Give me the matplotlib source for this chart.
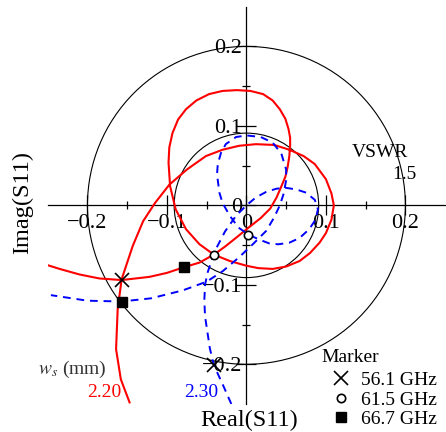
import matplotlib.pyplot as plt
from matplotlib.lines import Line2D

plt.rcParams['font.family'] = ['Liberation Serif', 'DejaVu Serif']
plt.rcParams['mathtext.fontset'] = 'stix'

# S11 trace, w_s = 2.20 mm (red, solid)
red_re = [-0.147, -0.158, -0.164, -0.162, -0.157, -0.143, -0.130, -0.115, -0.097, -0.075,
          -0.051, -0.030, -0.009, 0.012, 0.035, 0.054, 0.072, 0.086, 0.100, 0.107,
          0.110, 0.107, 0.100, 0.092, 0.080, 0.067, 0.050, 0.033, 0.015, 0.000,
          -0.021, -0.041, -0.059, -0.076, -0.089, -0.096, -0.098, -0.097, -0.093, -0.086,
          -0.076, -0.063, -0.047, -0.030, -0.012, 0.005, 0.021, 0.033, 0.042, 0.049,
          0.053, 0.055, 0.055, 0.054, 0.052, 0.049, 0.044, 0.038, 0.030, 0.018,
          0.004, -0.012, -0.027, -0.041, -0.059, -0.079, -0.100, -0.122, -0.157, -0.185,
          -0.210, -0.235, -0.251]
red_im = [-0.248, -0.219, -0.181, -0.131, -0.093, -0.051, -0.020, 0.003, 0.026, 0.045,
          0.062, 0.070, 0.075, 0.077, 0.076, 0.070, 0.062, 0.052, 0.033, 0.015,
          0.000, -0.018, -0.035, -0.047, -0.060, -0.070, -0.077, -0.080, -0.079, -0.076,
          -0.070, -0.062, -0.049, -0.030, -0.005, 0.024, 0.054, 0.073, 0.091, 0.108,
          0.121, 0.132, 0.140, 0.144, 0.145, 0.144, 0.140, 0.132, 0.121, 0.109,
          0.096, 0.085, 0.075, 0.062, 0.049, 0.036, 0.024, 0.010, -0.004, -0.016,
          -0.027, -0.040, -0.052, -0.062, -0.072, -0.078, -0.085, -0.090, -0.094, -0.092,
          -0.087, -0.080, -0.075]

# S11 trace, w_s = 2.30 mm (blue, dashed)
blue_re = [-0.019, -0.030, -0.041, -0.046, -0.049, -0.052, -0.053, -0.052, -0.049, -0.040,
           -0.027, -0.013, 0.000, 0.012, 0.025, 0.038, 0.050, 0.063, 0.075, 0.086,
           0.090, 0.087, 0.079, 0.067, 0.054, 0.040, 0.029, 0.016, 0.003, -0.010,
           -0.021, -0.030, -0.034, -0.037, -0.036, -0.032, -0.026, -0.013, 0.000, 0.018,
           0.033, 0.044, 0.050, 0.050, 0.047, 0.042, 0.035, 0.025, 0.008, -0.010,
           -0.030, -0.050, -0.080, -0.120, -0.157, -0.200, -0.246]
blue_im = [-0.250, -0.225, -0.201, -0.180, -0.160, -0.140, -0.120, -0.100, -0.085, -0.058,
           -0.033, -0.013, 0.000, 0.010, 0.017, 0.021, 0.022, 0.020, 0.016, 0.007,
           -0.005, -0.018, -0.030, -0.041, -0.047, -0.049, -0.048, -0.043, -0.037, -0.028,
           -0.013, 0.003, 0.016, 0.039, 0.052, 0.066, 0.077, 0.086, 0.088, 0.086,
           0.079, 0.065, 0.045, 0.032, 0.015, 0.000, -0.015, -0.032, -0.049, -0.066,
           -0.083, -0.096, -0.107, -0.117, -0.121, -0.120, -0.113]

# marker points (56.1, 61.5, 66.7 GHz)
marker_freqs = ['56.1 GHz', '61.5 GHz', '66.7 GHz']
red_mk_re = [-0.157, -0.041, -0.079]
red_mk_im = [-0.094, -0.062, -0.078]
blue_mk_re = [-0.041, 0.0025, -0.157]
blue_mk_im = [-0.201, -0.037, -0.121]

vswr_levels = [1.2, 1.5]
ticks = [-0.2, -0.1, 0, 0.1, 0.2]
tick_labels = ['\u22120.2', '\u22120.1', '0', '0.1', '0.2']
minor_ticks = [-0.15, -0.05, 0.05, 0.15]

fig = plt.figure(figsize=(4.46, 4.32), dpi=100)
ax = fig.add_axes([0.107, 0.0648, 0.891, 0.9197])
ax.set_xlim(-0.25, 0.25)
ax.set_ylim(-0.25, 0.25)

for s in ['left', 'bottom']:
    ax.spines[s].set_position('zero')
    ax.spines[s].set_linewidth(0.9)
for s in ['right', 'top']:
    ax.spines[s].set_visible(False)

ax.set_xticks(ticks)
ax.set_xticklabels(tick_labels)
ax.set_yticks(ticks)
ax.set_yticklabels(tick_labels)
ax.set_xticks(minor_ticks, minor=True)
ax.set_yticks(minor_ticks, minor=True)
ax.tick_params(which='major', direction='inout', length=14, width=0.9, labelsize=16)
ax.tick_params(which='minor', direction='inout', length=6, width=0.9)
ax.tick_params(axis='x', which='major', pad=-0.5)
ax.tick_params(axis='y', which='major', pad=-4)

# constant VSWR circles
for v in vswr_levels:
    r = (v - 1) / (v + 1)
    ax.add_patch(plt.Circle((0, 0), r, fill=False, color='black', lw=0.8))

ax.plot(red_re, red_im, color='red', lw=1.5, zorder=3)
ax.plot(blue_re, blue_im, color='blue', lw=1.4, ls=(0, (4, 3)), zorder=3)

mk_styles = [dict(marker='x', ms=10, mew=1.2, mfc='none', mec='black'),
             dict(marker='o', ms=6, mew=1.2, mfc='white', mec='black'),
             dict(marker='s', ms=6.5, mfc='black', mec='black')]
for i in range(3):
    ax.plot([red_mk_re[i], blue_mk_re[i]], [red_mk_im[i], blue_mk_im[i]],
            ls='none', zorder=5, **mk_styles[i])

ax.text(0.168, 0.067, 'VSWR', fontsize=14, ha='center', va='center')
ax.text(0.199, 0.039, '1.5', fontsize=14, ha='center', va='center')

ax.text(-0.2196, -0.206, r'$w_s$ (mm)', fontsize=14, ha='center', va='center', color='#333333')
ax.text(-0.179, -0.235, '2.20', fontsize=14, ha='center', va='center', color='red')
ax.text(-0.057, -0.235, '2.30', fontsize=14, ha='center', va='center', color='blue')

ax.text(0.094, -0.192, 'Marker', fontsize=14, ha='left', va='center')
handles = [Line2D([], [], ls='none', **st) for st in mk_styles]
ax.legend(handles, marker_freqs, loc='upper left', bbox_to_anchor=(0.107, -0.209),
          bbox_transform=ax.transData, frameon=False, fontsize=14,
          handlelength=1.0, handletextpad=0.5, labelspacing=0.1,
          borderpad=0, borderaxespad=0)

fig.text(249.5 / 446, 1 - 420 / 432, 'Real(S11)', fontsize=17.5, ha='center', va='center')
fig.text(22.5 / 446, 1 - 203 / 432, 'Imag(S11)', fontsize=17.5, ha='center', va='center',
         rotation=90)

fig.savefig('out.png', dpi=100)
